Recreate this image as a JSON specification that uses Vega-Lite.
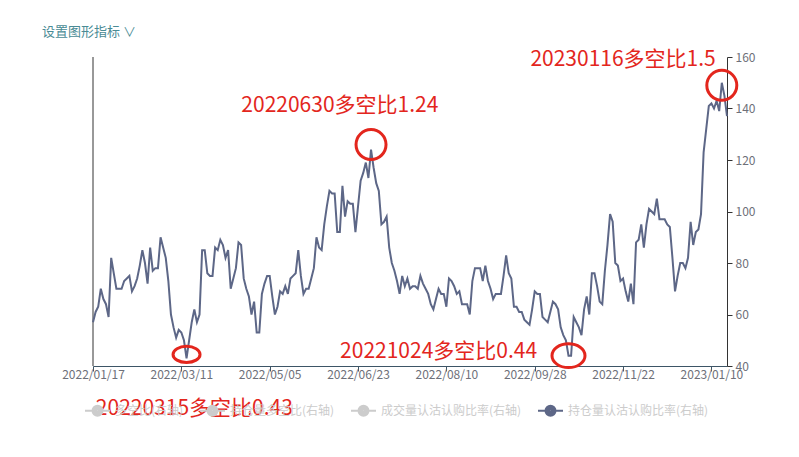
{
  "$schema": "https://vega.github.io/schema/vega-lite/v6.json",
  "width": 634,
  "height": 309,
  "autosize": {"type": "none"},
  "padding": {"left": 93, "top": 57, "right": 72, "bottom": 91},
  "background": "#ffffff",
  "config": {
    "view": {"stroke": null},
    "font": "Noto Sans CJK SC"
  },
  "title": {
    "text": "设置图形指标  ∨",
    "anchor": "start",
    "frame": "group",
    "fontSize": 13,
    "fontWeight": "normal",
    "color": "#4a8b95",
    "font": "Noto Sans CJK SC",
    "dx": -51,
    "offset": 10
  },
  "datasets": {
    "main": [
      {"d":"2022/01/17","v":57},{"d":"2022/01/18","v":61},{"d":"2022/01/19","v":63},{"d":"2022/01/20","v":70},{"d":"2022/01/21","v":66},
      {"d":"2022/01/24","v":64},{"d":"2022/01/25","v":59},{"d":"2022/01/26","v":82},{"d":"2022/01/27","v":76},{"d":"2022/01/28","v":70},
      {"d":"2022/02/07","v":70},{"d":"2022/02/08","v":70},{"d":"2022/02/09","v":73},{"d":"2022/02/10","v":74},{"d":"2022/02/11","v":75},
      {"d":"2022/02/14","v":69},{"d":"2022/02/15","v":71},{"d":"2022/02/16","v":74},{"d":"2022/02/17","v":79},{"d":"2022/02/18","v":85},
      {"d":"2022/02/21","v":80},{"d":"2022/02/22","v":72},{"d":"2022/02/23","v":86},{"d":"2022/02/24","v":77},{"d":"2022/02/25","v":78},
      {"d":"2022/02/28","v":78},{"d":"2022/03/01","v":90},{"d":"2022/03/02","v":86},{"d":"2022/03/03","v":82},{"d":"2022/03/04","v":73},
      {"d":"2022/03/07","v":60},{"d":"2022/03/08","v":55},{"d":"2022/03/09","v":51},{"d":"2022/03/10","v":54},{"d":"2022/03/11","v":53},
      {"d":"2022/03/14","v":50},{"d":"2022/03/15","v":43},{"d":"2022/03/16","v":50},{"d":"2022/03/17","v":57},{"d":"2022/03/18","v":62},
      {"d":"2022/03/21","v":57},{"d":"2022/03/22","v":60},{"d":"2022/03/23","v":85},{"d":"2022/03/24","v":85},{"d":"2022/03/25","v":76},
      {"d":"2022/03/28","v":75},{"d":"2022/03/29","v":75},{"d":"2022/03/30","v":86},{"d":"2022/03/31","v":85},{"d":"2022/04/01","v":89},
      {"d":"2022/04/06","v":87},{"d":"2022/04/07","v":82},{"d":"2022/04/08","v":85},{"d":"2022/04/11","v":70},{"d":"2022/04/12","v":74},
      {"d":"2022/04/13","v":78},{"d":"2022/04/14","v":88},{"d":"2022/04/15","v":87},{"d":"2022/04/18","v":74},{"d":"2022/04/19","v":70},
      {"d":"2022/04/20","v":67},{"d":"2022/04/21","v":60},{"d":"2022/04/22","v":65},{"d":"2022/04/25","v":53},{"d":"2022/04/26","v":53},
      {"d":"2022/04/27","v":68},{"d":"2022/04/28","v":72},{"d":"2022/04/29","v":75},{"d":"2022/05/05","v":75},{"d":"2022/05/06","v":67},
      {"d":"2022/05/09","v":60},{"d":"2022/05/10","v":63},{"d":"2022/05/11","v":69},{"d":"2022/05/12","v":68},{"d":"2022/05/13","v":71},
      {"d":"2022/05/16","v":68},{"d":"2022/05/17","v":74},{"d":"2022/05/18","v":75},{"d":"2022/05/19","v":76},{"d":"2022/05/20","v":85},
      {"d":"2022/05/23","v":75},{"d":"2022/05/24","v":68},{"d":"2022/05/25","v":70},{"d":"2022/05/26","v":70},{"d":"2022/05/27","v":74},
      {"d":"2022/05/30","v":78},{"d":"2022/05/31","v":90},{"d":"2022/06/01","v":86},{"d":"2022/06/02","v":85},{"d":"2022/06/06","v":95},
      {"d":"2022/06/07","v":102},{"d":"2022/06/08","v":108},{"d":"2022/06/09","v":107},{"d":"2022/06/10","v":107},{"d":"2022/06/13","v":92},
      {"d":"2022/06/14","v":92},{"d":"2022/06/15","v":110},{"d":"2022/06/16","v":98},{"d":"2022/06/17","v":104},{"d":"2022/06/20","v":103},
      {"d":"2022/06/21","v":103},{"d":"2022/06/22","v":92},{"d":"2022/06/23","v":102},{"d":"2022/06/24","v":112},{"d":"2022/06/27","v":115},
      {"d":"2022/06/28","v":119},{"d":"2022/06/29","v":113},{"d":"2022/06/30","v":124},{"d":"2022/07/01","v":117},{"d":"2022/07/04","v":111},
      {"d":"2022/07/05","v":108},{"d":"2022/07/06","v":95},{"d":"2022/07/07","v":96},{"d":"2022/07/08","v":98},{"d":"2022/07/11","v":86},
      {"d":"2022/07/12","v":80},{"d":"2022/07/13","v":77},{"d":"2022/07/14","v":73},{"d":"2022/07/15","v":68},{"d":"2022/07/18","v":75},
      {"d":"2022/07/19","v":71},{"d":"2022/07/20","v":74},{"d":"2022/07/21","v":70},{"d":"2022/07/22","v":71},{"d":"2022/07/25","v":71},
      {"d":"2022/07/26","v":70},{"d":"2022/07/27","v":75},{"d":"2022/07/28","v":72},{"d":"2022/07/29","v":70},{"d":"2022/08/01","v":68},
      {"d":"2022/08/02","v":64},{"d":"2022/08/03","v":62},{"d":"2022/08/04","v":66},{"d":"2022/08/05","v":70},{"d":"2022/08/08","v":68},
      {"d":"2022/08/09","v":68},{"d":"2022/08/10","v":63},{"d":"2022/08/11","v":74},{"d":"2022/08/12","v":73},{"d":"2022/08/15","v":71},
      {"d":"2022/08/16","v":68},{"d":"2022/08/17","v":69},{"d":"2022/08/18","v":64},{"d":"2022/08/19","v":64},{"d":"2022/08/22","v":64},
      {"d":"2022/08/23","v":60},{"d":"2022/08/24","v":73},{"d":"2022/08/25","v":78},{"d":"2022/08/26","v":78},{"d":"2022/08/29","v":78},
      {"d":"2022/08/30","v":73},{"d":"2022/08/31","v":79},{"d":"2022/09/01","v":73},{"d":"2022/09/02","v":70},{"d":"2022/09/05","v":66},
      {"d":"2022/09/06","v":68},{"d":"2022/09/07","v":68},{"d":"2022/09/08","v":68},{"d":"2022/09/09","v":75},{"d":"2022/09/13","v":83},
      {"d":"2022/09/14","v":76},{"d":"2022/09/15","v":74},{"d":"2022/09/16","v":63},{"d":"2022/09/19","v":63},{"d":"2022/09/20","v":61},
      {"d":"2022/09/21","v":61},{"d":"2022/09/22","v":58},{"d":"2022/09/23","v":57},{"d":"2022/09/26","v":56},{"d":"2022/09/27","v":62},
      {"d":"2022/09/28","v":69},{"d":"2022/09/29","v":68},{"d":"2022/09/30","v":68},{"d":"2022/10/10","v":59},{"d":"2022/10/11","v":58},
      {"d":"2022/10/12","v":57},{"d":"2022/10/13","v":61},{"d":"2022/10/14","v":65},{"d":"2022/10/17","v":64},{"d":"2022/10/18","v":62},
      {"d":"2022/10/19","v":55},{"d":"2022/10/20","v":52},{"d":"2022/10/21","v":50},{"d":"2022/10/24","v":44},{"d":"2022/10/25","v":44},
      {"d":"2022/10/26","v":59},{"d":"2022/10/27","v":57},{"d":"2022/10/28","v":55},{"d":"2022/10/31","v":52},{"d":"2022/11/01","v":62},
      {"d":"2022/11/02","v":67},{"d":"2022/11/03","v":60},{"d":"2022/11/04","v":76},{"d":"2022/11/07","v":76},{"d":"2022/11/08","v":71},
      {"d":"2022/11/09","v":65},{"d":"2022/11/10","v":64},{"d":"2022/11/11","v":77},{"d":"2022/11/14","v":87},{"d":"2022/11/15","v":99},
      {"d":"2022/11/16","v":96},{"d":"2022/11/17","v":80},{"d":"2022/11/18","v":79},{"d":"2022/11/21","v":73},{"d":"2022/11/22","v":74},
      {"d":"2022/11/23","v":69},{"d":"2022/11/24","v":65},{"d":"2022/11/25","v":72},{"d":"2022/11/28","v":64},{"d":"2022/11/29","v":88},
      {"d":"2022/11/30","v":89},{"d":"2022/12/01","v":95},{"d":"2022/12/02","v":86},{"d":"2022/12/05","v":95},{"d":"2022/12/06","v":101},
      {"d":"2022/12/07","v":100},{"d":"2022/12/08","v":99},{"d":"2022/12/09","v":105},{"d":"2022/12/12","v":97},{"d":"2022/12/13","v":97},
      {"d":"2022/12/14","v":97},{"d":"2022/12/15","v":95},{"d":"2022/12/16","v":94},{"d":"2022/12/19","v":82},{"d":"2022/12/20","v":69},
      {"d":"2022/12/21","v":75},{"d":"2022/12/22","v":80},{"d":"2022/12/23","v":80},{"d":"2022/12/26","v":78},{"d":"2022/12/27","v":82},
      {"d":"2022/12/28","v":96},{"d":"2022/12/29","v":87},{"d":"2022/12/30","v":92},{"d":"2023/01/03","v":93},{"d":"2023/01/04","v":99},
      {"d":"2023/01/05","v":123},{"d":"2023/01/06","v":132},{"d":"2023/01/09","v":141},{"d":"2023/01/10","v":142},{"d":"2023/01/11","v":140},
      {"d":"2023/01/12","v":143},{"d":"2023/01/13","v":139},{"d":"2023/01/16","v":150},{"d":"2023/01/17","v":145},{"d":"2023/01/18","v":137}
    ],
    "notes": [
      {"d":"2022/06/14","v":141,"t":"20220630多空比1.24"},
      {"d":"2022/11/22","v":158.8,"t":"20230116多空比1.5"},
      {"d":"2022/08/05","v":45.4,"t":"20221024多空比0.44"},
      {"d":"2022/03/18","v":23.3,"t":"20220315多空比0.43"}
    ],
    "one": [{}]
  },
  "layer": [
    {
      "data": {"name": "one"},
      "mark": {"type": "rule", "color": "#333333", "strokeWidth": 1},
      "encoding": {"x": {"datum": "2022/01/17", "type": "ordinal"}}
    },
    {
      "data": {"name": "main"},
      "mark": {"type": "line", "strokeWidth": 2, "interpolate": "linear"},
      "encoding": {
        "x": {
          "field": "d", "type": "ordinal",
          "scale": {"type": "point", "padding": 0},
          "axis": {
            "title": null,
            "values": ["2022/01/17","2022/03/11","2022/05/05","2022/06/23","2022/08/10","2022/09/28","2022/11/22","2023/01/10"],
            "labelAngle": 0,
            "labelAlign": "center",
            "labelFontSize": 12,
            "labelColor": "#6e7079",
            "domainColor": "#3d5566",
            "tickColor": "#3d5566",
            "tickSize": 5,
            "labelPadding": 3,
            "grid": false
          }
        },
        "y": {
          "field": "v", "type": "quantitative",
          "scale": {"domain": [40, 160], "nice": false, "zero": false},
          "axis": {
            "orient": "right",
            "title": null,
            "values": [40, 60, 80, 100, 120, 140, 160],
            "labelFontSize": 12,
            "labelColor": "#6e7079",
            "domainColor": "#333333",
            "tickColor": "#333333",
            "tickSize": 5,
            "labelPadding": 3,
            "grid": false
          }
        },
        "color": {
          "datum": "持仓量认沽认购比率(右轴)",
          "type": "nominal",
          "scale": {
            "domain": ["多空比(右轴)", "持仓量多空比(右轴)", "成交量认沽认购比率(右轴)", "持仓量认沽认购比率(右轴)"],
            "range": ["#cccccc", "#cccccc", "#cccccc", "#5d6787"]
          },
          "legend": {
            "title": null,
            "orient": "none",
            "direction": "horizontal",
            "legendX": -9,
            "legendY": 340,
            "padding": 0,
            "symbolType": "M-1,0H-0.4M0.4,0H1M0.4,0A0.4,0.4,0,1,1,-0.4,0A0.4,0.4,0,1,1,0.4,0ZM0.3,0A0.3,0.3,0,1,1,-0.3,0A0.3,0.3,0,1,1,0.3,0ZM0.2,0A0.2,0.2,0,1,1,-0.2,0A0.2,0.2,0,1,1,0.2,0ZM0.1,0A0.1,0.1,0,1,1,-0.1,0A0.1,0.1,0,1,1,0.1,0Z",
            "symbolSize": 625,
            "symbolStrokeWidth": 2,
            "labelFontSize": 12,
            "labelOffset": 4,
            "columnPadding": 12,
            "labelColor": "#cccccc",
            "encoding": {
              "labels": {"update": {"fill": {"signal": "datum.value === '持仓量认沽认购比率(右轴)' ? '#333333' : '#cccccc'"}}},
              "symbols": {"update": {"fill": {"signal": "datum.value === '持仓量认沽认购比率(右轴)' ? '#5d6787' : '#cccccc'"}, "fillOpacity": {"value": 1}, "stroke": {"signal": "datum.value === '持仓量认沽认购比率(右轴)' ? '#5d6787' : '#cccccc'"}}}
            }
          }
        }
      }
    },
    {
      "data": {"name": "notes"},
      "mark": {"type": "text", "align": "center", "baseline": "middle", "fontSize": 21, "color": "#e3261d", "font": "Noto Sans CJK SC"},
      "encoding": {
        "x": {"field": "d", "type": "ordinal"},
        "y": {"field": "v", "type": "quantitative"},
        "text": {"field": "t"}
      }
    },
    {
      "data": {"name": "one"},
      "mark": {"type": "point", "shape": "circle", "size": 900, "filled": false, "stroke": "#e3261d", "strokeWidth": 3, "opacity": 1},
      "encoding": {"x": {"datum": "2022/06/30", "type": "ordinal"}, "y": {"datum": 126, "type": "quantitative"}}
    },
    {
      "data": {"name": "one"},
      "mark": {"type": "point", "shape": "circle", "size": 900, "filled": false, "stroke": "#e3261d", "strokeWidth": 3, "opacity": 1},
      "encoding": {"x": {"datum": "2023/01/16", "type": "ordinal"}, "y": {"datum": 149, "type": "quantitative"}}
    },
    {
      "data": {"name": "one"},
      "mark": {"type": "point", "shape": "M-1,0A1,0.6,0,1,1,1,0A1,0.6,0,1,1,-1,0Z", "size": 729, "filled": false, "stroke": "#e3261d", "strokeWidth": 3, "opacity": 1},
      "encoding": {"x": {"datum": "2022/03/15", "type": "ordinal"}, "y": {"datum": 44.5, "type": "quantitative"}}
    },
    {
      "data": {"name": "one"},
      "mark": {"type": "point", "shape": "M-1,0A1,0.72,0,1,1,1,0A1,0.72,0,1,1,-1,0Z", "size": 1089, "filled": false, "stroke": "#e3261d", "strokeWidth": 3, "opacity": 1},
      "encoding": {"x": {"datum": "2022/10/24", "type": "ordinal"}, "y": {"datum": 44, "type": "quantitative"}}
    }
  ]
}
